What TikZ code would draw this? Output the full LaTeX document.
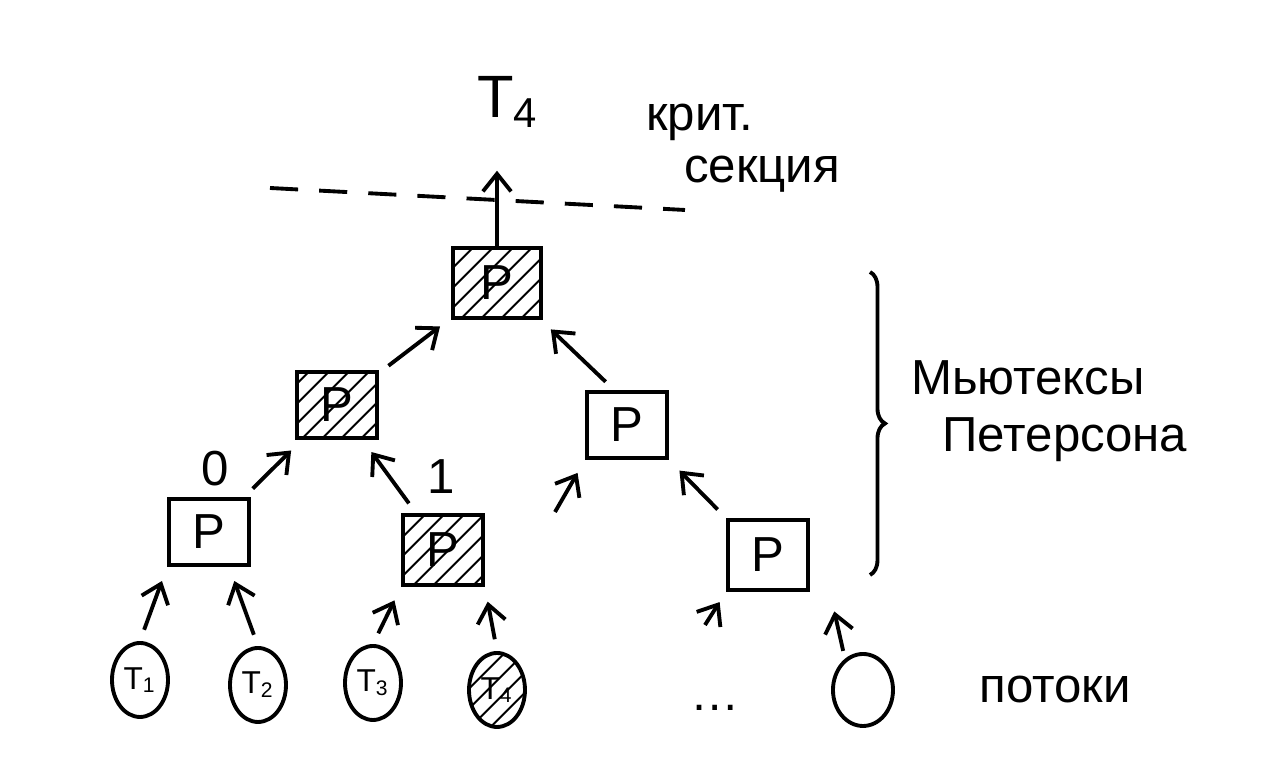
\documentclass[tikz,border=0pt]{standalone}
\usepackage{fontspec}
\setmainfont{Liberation Sans}
\usetikzlibrary{shapes.geometric,patterns.meta,decorations.pathreplacing,arrows.meta}
\begin{document}
\begin{tikzpicture}[
        line width=1.1pt,
        font=\fontsize{14}{16}\selectfont,
        >={Straight Barb[length=5pt,width=8pt]}
    ]
    \tikzset{
        pbox/.style = {rectangle, draw=black, align=center, minimum width=0.8cm, minimum height=0.66cm},
        hatched/.style = {pattern={Lines[angle=45,distance=4pt,line width=0.6pt]}},
        thread/.style = {ellipse, draw=black, minimum width=0.56cm, minimum height=0.74cm, inner sep=0pt, font=\small},
        link/.style = {->, shorten <=0.12cm, shorten >=0.15cm},
    }
    \useasboundingbox (0,0) rectangle (12.86,7.80);
    % mutex tree
    \node[pbox,hatched,minimum width=0.88cm,minimum height=0.7cm] at (4.97,4.97) (Top) {P};
    \node[pbox,hatched] at (3.37,3.75) (LM) {P};
    \node[pbox] at (6.27,3.55) (RM) {P};
    \node[pbox] at (2.09,2.48) (BL) {P};
    \node[pbox,hatched,minimum height=0.7cm] at (4.43,2.30) (BM) {P};
    \node[pbox,minimum height=0.7cm] at (7.68,2.25) (BR) {P};
    % threads
    \node[thread] at (1.40,1.00) (T1) {T\textsubscript{1}};
    \node[thread] at (2.58,0.95) (T2) {T\textsubscript{2}};
    \node[thread] at (3.73,0.97) (T3) {T\textsubscript{3}};
    \node[thread,hatched] at (4.97,0.90) (T4) {T\textsubscript{4}};
    \node at (7.15,0.72) (dots) {\dots};
    \node[thread,minimum width=0.6cm,minimum height=0.72cm] at (8.63,0.90) (Tn) {};
    \coordinate (dotsup) at (7.05,1.55);
    \coordinate (free) at (5.55,2.68);
    % winner
    \node[font=\fontsize{17}{19}\selectfont] at (5.08,6.78) (win) {T\textsubscript{4}};
    \coordinate (dashL) at (2.70,5.92);
    \coordinate (dashR) at (6.85,5.70);
    \draw[dash pattern=on 8pt off 6pt] (dashL) -- (dashR);
    \draw[->,shorten >=0.3cm] (Top.north) -- (Top.north |- win.south);
    % arrows
    \draw[link] (LM) -- (Top);
    \draw[link] (RM.110) -- (Top.-40);
    \draw[link] (BL) -- (LM) node[midway,left=0.3cm] (zero) {0};
    \draw[link] (BM) -- (LM) node[midway,right=0.25cm] (one) {1};
    \draw[->,shorten >=0.15cm] (free) -- (RM.south west);
    \draw[link] (BR.north west) -- (RM.south east);
    \draw[link] (T1.north) -- (BL.south west);
    \draw[link] (T2.north) -- (BL.-60);
    \draw[link] (T3.north) -- (BM.south west);
    \draw[link] (T4.north) -- (BM.south east);
    \draw[->,shorten >=0.12cm] (dotsup) -- (BR.south west);
    \draw[->,shorten <=0.08cm,shorten >=0.2cm] (Tn.120) -- ([xshift=2mm]BR.south east);
    % labels
    \draw[decorate,decoration={brace,amplitude=0.15cm}] (8.70,5.08) -- (8.70,2.05) coordinate (braceEnd);
    \node at (7.00,6.58) (crit1) {крит.};
    \node at (7.62,6.06) (crit2) {секция};
    \node at (10.28,4.02) (mtx1) {Мьютексы};
    \node at (10.65,3.40) (mtx2) {Петерсона};
    \node at (10.55,0.90) (thr) {потоки};
\end{tikzpicture}
\end{document}
